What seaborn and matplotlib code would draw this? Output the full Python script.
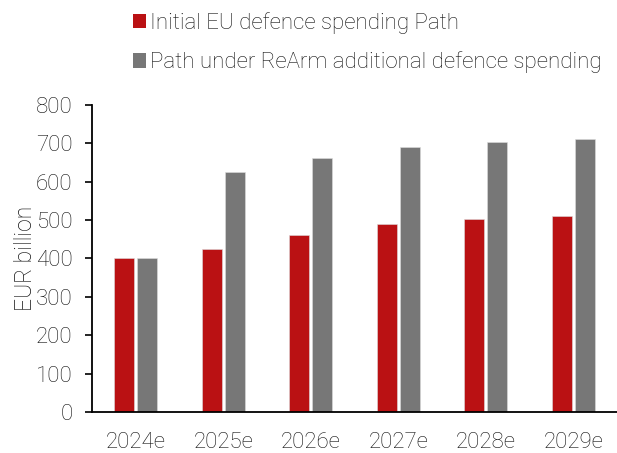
import matplotlib
matplotlib.use("Agg")
import matplotlib.pyplot as plt
import seaborn as sns
import pandas as pd
from matplotlib.patches import Patch

years = ["2024e", "2025e", "2026e", "2027e", "2028e", "2029e"]
initial_path = [400, 425, 460, 490, 502, 510]
rearm_path = [400, 625, 660, 690, 702, 710]
series_names = ["Initial EU defence spending Path",
                "Path under ReArm additional defence spending"]
colors = ["#BA1113", "#777777"]

df = pd.DataFrame({
    "year": years * 2,
    "value": initial_path + rearm_path,
    "series": [series_names[0]] * len(years) + [series_names[1]] * len(years),
})

sns.set_style("white")
plt.rcParams["font.family"] = ["Roboto", "DejaVu Sans"]
plt.rcParams["font.weight"] = "light"
plt.rcParams["axes.labelweight"] = "light"

fig = plt.figure(figsize=(6.17, 4.53), dpi=100)
ax = fig.add_axes([92 / 617, 1 - 412 / 453, (617 - 92) / 617, (412 - 104.7) / 453])

sns.barplot(data=df, x="year", y="value", hue="series", palette=colors,
            width=0.52, gap=0.12, ax=ax, legend=False, saturation=1,
            edgecolor="#dddddd", linewidth=0.4)

ax.set_ylim(0, 800)
ax.set_xlim(-0.5, 5.5)
ax.set_yticks(range(0, 801, 100))
ax.set_xlabel("")
ax.set_ylabel("EUR billion", fontsize=16.5, color="#111111", labelpad=-1,
              fontweight="light")
for s in ["top", "right"]:
    ax.spines[s].set_visible(False)
for s in ["left", "bottom"]:
    ax.spines[s].set_color("black")
    ax.spines[s].set_linewidth(1.3)
ax.tick_params(axis="y", which="both", left=True, length=5, width=1.2,
               color="black", pad=9, labelsize=16, labelcolor="#111111")
ax.tick_params(axis="x", which="both", bottom=False, pad=11, labelsize=16,
               labelcolor="#111111")

handles = [Patch(facecolor=c, edgecolor="none") for c in colors]
fig.legend(handles, series_names, loc="upper left",
           bbox_to_anchor=(133 / 617, 1 - 12 / 453), frameon=False,
           fontsize=16, handlelength=0.6, handleheight=0.6,
           handletextpad=0.15, labelspacing=0.8, labelcolor="#111111",
           borderaxespad=0, borderpad=0)

fig.savefig("out.png", dpi=100)
